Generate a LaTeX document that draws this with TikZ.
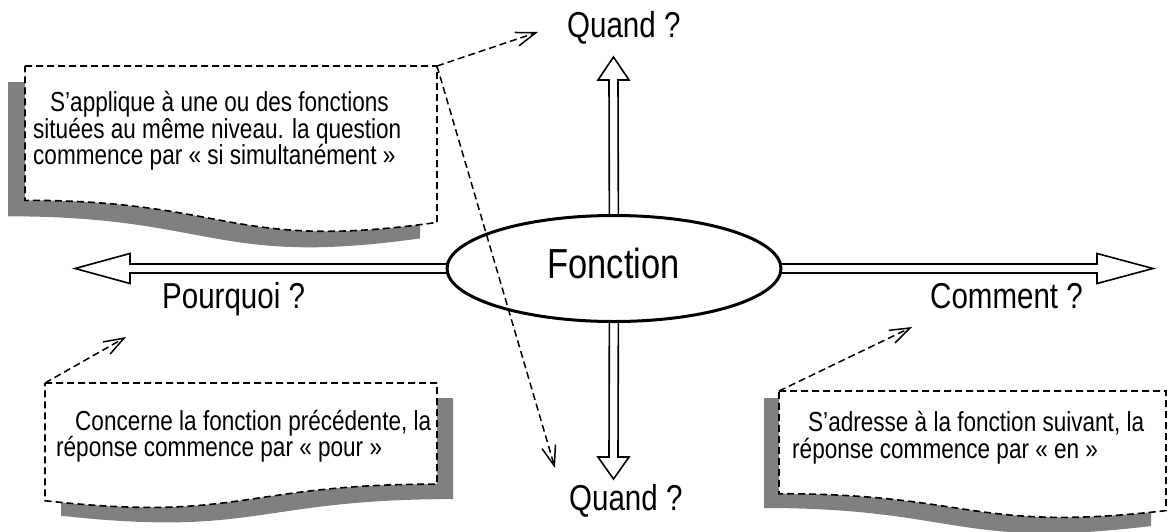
\documentclass[tikz,border=0pt]{standalone}
\usepackage{fontspec}
\setmainfont{Liberation Sans}[FakeStretch=0.82]
\usetikzlibrary{arrows.meta,shapes.geometric,calc}
\definecolor{shadowgray}{RGB}{128,128,128}
\begin{document}
\begin{tikzpicture}[x=1pt,y=-1pt,
  hollow/.style={draw=black,fill=white,line width=1.6pt,line join=miter},
  docbox/.style={draw=black,fill=white,line width=1.6pt,dash pattern=on 7pt off 4pt},
  callout/.style={draw=black,line width=1.5pt,dash pattern=on 7pt off 4pt,
    -{Straight Barb[length=20pt,width=14pt,line width=1.5pt]}},
  lbl/.style={inner sep=0pt,anchor=base west,font=\fontsize{36}{40}\selectfont},
  boxtext/.style={inner sep=0pt,anchor=base west,align=left,font=\fontsize{27.5}{26.5}\selectfont}
]
\useasboundingbox (0,0) rectangle (1168,531);

% ---- top-left note (mirrored document shape)
\fill[shadowgray] (8,82) -- (420,82) -- (420,238.4) .. controls (214,267.4) and (214,216.3) .. (8,216.3) -- cycle;
\path[docbox] (25,66) -- (437,66) -- (437,222.4) .. controls (231,251.4) and (231,200.3) .. (25,200.3) -- cycle;
\coordinate (tl) at (437,66);
\node[boxtext] (t1) at (33,164.7) {\hspace*{17pt}S’applique à une ou des fonctions\\situées au même niveau. la question\\commence par « si simultanément »};

% ---- bottom-left note
\fill[shadowgray] (61,398) -- (453,398) -- (453,499.1) .. controls (257,499.1) and (257,537.5) .. (61,515.7) -- cycle;
\path[docbox] (45,383) -- (437,383) -- (437,484.1) .. controls (241,484.1) and (241,522.5) .. (45,500.7) -- cycle;
\coordinate (bl) at (45,383);
\node[boxtext] (t2) at (56,456.7) {\hspace*{19pt}Concerne la fonction précédente, la\\réponse commence par « pour »};

% ---- bottom-right note (mirrored)
\fill[shadowgray] (764,398) -- (1151,398) -- (1151,526) .. controls (957.5,549.6) and (957.5,508) .. (764,508) -- cycle;
\path[docbox] (779,391) -- (1166,391) -- (1166,510.6) .. controls (972.5,532.7) and (972.5,493.7) .. (779,493.7) -- cycle;
\coordinate (br) at (779,391);
\node[boxtext] (t3) at (792,458) {\hspace*{16pt}S’adresse à la fonction suivant, la\\réponse commence par « en »};

% ---- hollow arrows
\coordinate (c) at (614,268.5);
\coordinate (tipL) at (75,268.5);
\coordinate (tipR) at (1153,268.5);
\coordinate (tipU) at (613.5,57);
\coordinate (tipD) at (613.5,479);
\draw[hollow] (tipL) -- ++(55,-15) -- ++(0,10.5) -- ($(c)+(0,-4.5)$) -- ($(c)+(0,4.5)$) -- ($(tipL)+(55,4.5)$) -- ++(0,10.5) -- cycle;
\draw[hollow] (tipR) -- ++(-56,-15) -- ++(0,10.5) -- ($(c)+(0,-4.5)$) -- ($(c)+(0,4.5)$) -- ($(tipR)+(-56,4.5)$) -- ++(0,10.5) -- cycle;
\draw[hollow] (tipU) -- ++(-15.5,23) -- ++(11,0) -- ($(c)+(-4.5,0)$) -- ($(c)+(4.5,0)$) -- ($(tipU)+(4.5,23)$) -- ++(11,0) -- cycle;
\draw[hollow] (tipD) -- ++(-15.5,-22) -- ++(11,0) -- ($(c)+(-4.5,0)$) -- ($(c)+(4.5,0)$) -- ($(tipD)+(4.5,-22)$) -- ++(11,0) -- cycle;

% ---- central ellipse
\node[ellipse,draw=black,fill=white,line width=3pt,minimum width=334pt,minimum height=106pt,inner sep=0pt] (fn) at (c) {};
\node[inner sep=0pt,anchor=base,font=\fontsize{42}{46}\selectfont] (fntext) at (613.5,278) {Fonction};

% ---- labels
\node[lbl] (quandT) at (567,37) {Quand ?};
\node[lbl] (quandB) at (569,510) {Quand ?};
\node[lbl] (pourquoi) at (162,308) {Pourquoi ?};
\node[lbl] (comment) at (930,308) {Comment ?};

% ---- callouts
\coordinate (qTtip) at (538,32);
\coordinate (qBtip) at (555,468);
\coordinate (pTtip) at (126,337);
\coordinate (cTtip) at (912,327);
\draw[callout] (tl) -- (qTtip);
\draw[callout] (tl) -- (qBtip);
\draw[callout] (bl) -- (pTtip);
\draw[callout] (br) -- (cTtip);
\end{tikzpicture}
\end{document}
